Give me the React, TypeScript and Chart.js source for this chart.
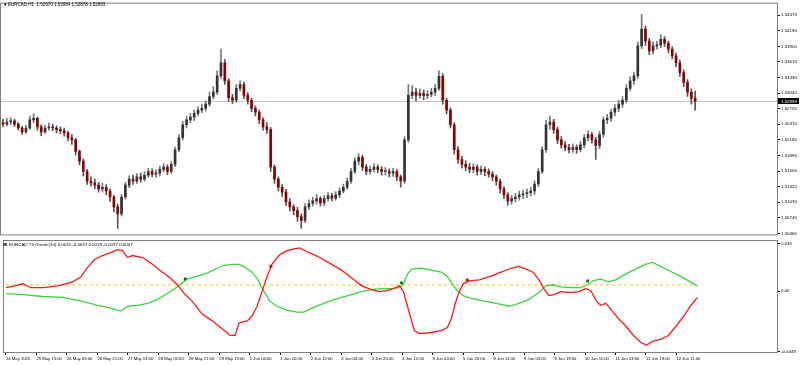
import React, { useEffect, useRef } from "react";
import { Chart, registerables } from "chart.js";

Chart.register(...registerables);

// ---------- data ----------
const symbolTitle = "EURCAD,H1";
const headerPrices = ["1.52970", "1.53084", "1.52878", "1.52893"];
const indicatorTitle = "EURCAD T3 iTrend (34)";
const indicatorBuffers = ["0.0015", "-0.0037", "0.0019", "-0.0037", "0.0047"];
const currentPrice = 1.52893;
const hoursPerBar = 2;
const firstOpen = 1.525;

const closes = [
  1.5247, 1.5251, 1.5253, 1.5247, 1.524, 1.5233, 1.524, 1.5255, 1.5258, 1.5242,
  1.5233, 1.524, 1.5242, 1.524, 1.5237, 1.5235, 1.5231, 1.5222, 1.5218, 1.5197,
  1.5179, 1.516, 1.5142, 1.5139, 1.5135, 1.5128, 1.5131, 1.5124, 1.5113, 1.5095,
  1.5082, 1.5113, 1.5135, 1.5146, 1.5142, 1.515, 1.5146, 1.5153, 1.516, 1.5155,
  1.5157, 1.5164, 1.5168, 1.516, 1.5173, 1.52, 1.5222, 1.5246, 1.5255, 1.526,
  1.5267, 1.5273, 1.5276, 1.5284, 1.5298, 1.5306, 1.5336, 1.536, 1.5327, 1.5296,
  1.5291, 1.5313, 1.532, 1.53, 1.5291, 1.5276, 1.5269, 1.5255, 1.5242, 1.5237,
  1.5168, 1.5146, 1.5131, 1.5122, 1.5104, 1.5095, 1.5088, 1.5077, 1.507, 1.5095,
  1.5101, 1.5106, 1.511, 1.5102, 1.511, 1.5115, 1.5111, 1.5117, 1.5124, 1.5131,
  1.5142, 1.516, 1.5179, 1.5186, 1.5168, 1.516, 1.5164, 1.5168, 1.5164, 1.516,
  1.516, 1.5157, 1.516, 1.515, 1.5142, 1.5218, 1.53, 1.5306, 1.53, 1.5304,
  1.53, 1.5302, 1.5306, 1.5313, 1.5335, 1.5291, 1.5273, 1.5246, 1.52, 1.5182,
  1.5173, 1.5168, 1.5164, 1.5168, 1.516, 1.5164, 1.516, 1.5155, 1.515, 1.5142,
  1.5128, 1.5117, 1.5106, 1.511, 1.5113, 1.5117, 1.5119, 1.5121, 1.5124, 1.5137,
  1.516, 1.52, 1.5246, 1.5251, 1.5237, 1.5218, 1.5209, 1.5204, 1.52, 1.5204,
  1.52, 1.5209, 1.5222, 1.5228, 1.5218, 1.5208, 1.5228, 1.5255, 1.5258, 1.5269,
  1.5276, 1.5284, 1.5291, 1.5313, 1.5327, 1.5336, 1.5391, 1.5422, 1.54, 1.5382,
  1.5391, 1.5393, 1.5403, 1.5396, 1.5385, 1.5373, 1.536, 1.5342, 1.5324, 1.5306,
  1.5295, 1.52893,
];

const highs = [
  1.5256, 1.5258, 1.5259, 1.5256, 1.525, 1.5243, 1.5245, 1.5262, 1.5266, 1.526,
  1.5246, 1.5245, 1.5249, 1.5247, 1.5244, 1.5242, 1.524, 1.5234, 1.5228, 1.5221,
  1.52, 1.5183, 1.5164, 1.515, 1.5146, 1.514, 1.5138, 1.5136, 1.5128, 1.5116,
  1.51, 1.5118, 1.514, 1.5152, 1.5153, 1.5156, 1.5157, 1.516, 1.5166, 1.5165,
  1.5163, 1.517, 1.5174, 1.5172, 1.5178, 1.5205, 1.5228, 1.5252, 1.5262, 1.5267,
  1.5273, 1.5279, 1.5284, 1.529, 1.5306, 1.5316, 1.5345, 1.5385, 1.5366, 1.5331,
  1.5302, 1.532, 1.5327, 1.5324, 1.5305, 1.5295, 1.5281, 1.5273, 1.5259, 1.525,
  1.5241, 1.5172, 1.515, 1.5136, 1.5127, 1.511, 1.5099, 1.5094, 1.5082, 1.5101,
  1.5108, 1.5113, 1.5118, 1.5114, 1.5116, 1.5121, 1.512, 1.5123, 1.513, 1.5137,
  1.5148, 1.5166, 1.5185, 1.5193, 1.519, 1.5173, 1.517, 1.5174, 1.5172, 1.5169,
  1.5167, 1.5165, 1.5166, 1.5164, 1.5154, 1.5224, 1.532, 1.5318, 1.5313, 1.5312,
  1.531, 1.5309, 1.5313, 1.532, 1.5345, 1.534, 1.5295, 1.5277, 1.525, 1.5206,
  1.5188, 1.518, 1.5175, 1.5174, 1.5172, 1.517, 1.5168, 1.5165, 1.516, 1.5154,
  1.5146, 1.5132, 1.5121, 1.5116, 1.512, 1.5124, 1.5126, 1.5128, 1.5131, 1.5143,
  1.5166, 1.5206, 1.5254, 1.5262, 1.5256, 1.5241, 1.5224, 1.5215, 1.521, 1.5211,
  1.5209, 1.5215, 1.5228, 1.5235, 1.5232, 1.5223, 1.5234, 1.526, 1.5265, 1.5275,
  1.5283, 1.5291, 1.5298, 1.532, 1.5334, 1.5343, 1.5398, 1.5449, 1.5428, 1.5405,
  1.5398, 1.54, 1.5412, 1.5408, 1.54, 1.539, 1.5378, 1.5365, 1.5347, 1.5329,
  1.5312, 1.5308,
];

const lows = [
  1.5242, 1.5244, 1.5246, 1.5243, 1.5236, 1.5228, 1.523, 1.5237, 1.525, 1.5236,
  1.5226, 1.523, 1.5236, 1.5235, 1.5231, 1.5229, 1.5225, 1.5216, 1.521, 1.519,
  1.5172, 1.5152, 1.5136, 1.5133, 1.5128, 1.5122, 1.5122, 1.5117, 1.5105, 1.5086,
  1.5055, 1.5078, 1.5109, 1.513, 1.5136, 1.5138, 1.514, 1.5142, 1.5149, 1.515,
  1.5149, 1.5152, 1.5159, 1.5154, 1.5156, 1.5169, 1.5196, 1.5218, 1.524, 1.525,
  1.5254, 1.5262, 1.5268, 1.5271, 1.528, 1.5293, 1.5302, 1.5331, 1.532, 1.5289,
  1.5285, 1.5287, 1.5308, 1.5294, 1.5284, 1.527, 1.5262, 1.5248, 1.5236, 1.523,
  1.516, 1.5138, 1.5124, 1.5114, 1.5097, 1.5087, 1.508, 1.5068, 1.5055, 1.5066,
  1.509, 1.5096, 1.51, 1.5096, 1.5097, 1.5105, 1.5106, 1.5107, 1.5112, 1.512,
  1.5127, 1.5138, 1.5156, 1.5172, 1.5162, 1.5154, 1.5155, 1.5159, 1.5158, 1.5153,
  1.5153, 1.515, 1.5151, 1.5143, 1.5131, 1.5138, 1.5214, 1.5294, 1.529, 1.5295,
  1.5292, 1.5294, 1.5297, 1.53, 1.5309, 1.5284, 1.5266, 1.524, 1.5192, 1.5175,
  1.5166, 1.5161, 1.5158, 1.5158, 1.5153, 1.5154, 1.5152, 1.5149, 1.5143, 1.5135,
  1.512, 1.511, 1.5098, 1.51, 1.5104, 1.5107, 1.511, 1.5112, 1.5115, 1.5118,
  1.5132, 1.5156, 1.5195, 1.5238, 1.523, 1.5211, 1.5203, 1.5198, 1.5194, 1.5195,
  1.5193, 1.5196, 1.5204, 1.5216, 1.5212, 1.5182, 1.5202, 1.5223, 1.5248, 1.5252,
  1.5262, 1.527, 1.5278, 1.5286, 1.5308, 1.532, 1.5331, 1.5386, 1.5392, 1.5375,
  1.5376, 1.5385, 1.5388, 1.539, 1.5378, 1.5367, 1.5353, 1.5335, 1.5316, 1.5298,
  1.5284, 1.5273,
];

const priceTicks = [
  1.54475, 1.5419, 1.539, 1.53615, 1.5333, 1.5304, 1.52755, 1.5247, 1.5218,
  1.51895, 1.51605, 1.5132, 1.51035, 1.50745, 1.5046,
];

const timeLabels = [
  "24 May 2020", "25 May 13:00", "26 May 05:00", "26 May 21:00", "27 May 13:00",
  "28 May 05:00", "28 May 21:00", "29 May 13:00", "1 Jun 04:00", "1 Jun 20:00",
  "2 Jun 12:00", "3 Jun 04:00", "3 Jun 20:00", "4 Jun 12:00", "5 Jun 04:00",
  "5 Jun 20:00", "8 Jun 11:00", "9 Jun 03:00", "9 Jun 19:00", "10 Jun 11:00",
  "11 Jun 03:00", "11 Jun 19:00", "12 Jun 11:00",
];
const labelEveryHours = 16;

const redHours = [
  0, 4.7, 8.9, 13.1, 19.4, 27.2, 35.0, 39.2, 42.9, 46.5, 50.7, 54.9, 58.6, 61.2,
  63.8, 66.4, 71.7, 76.9, 82.1, 86.3, 90.0, 93.6, 97.8, 103.0, 108.3, 113.5,
  117.7, 120.3, 122.4, 126.6, 129.2, 131.8, 134.4, 137.0, 139.6, 143.8, 147.5,
  151.2, 154.3, 157.9, 161.6, 165.8, 171.0, 176.2, 181.5, 186.7, 191.9, 196.1,
  199.8, 203.5, 206.6, 208.7, 210.8, 212.9, 214.4, 217.1, 223.3, 228.6, 231.7,
  233.8, 235.9, 238.0, 240.1, 243.2, 248.4, 254.7, 259.9, 265.2, 269.4, 273.0,
  276.7, 279.8, 282.4, 285.0, 287.7, 291.3, 296.5, 300.7, 304.4, 307.0, 310.1,
  312.2, 314.9, 317.5, 321.7, 325.3, 329.0, 333.2, 336.3, 339.4, 343.6, 347.8,
  352.0, 356.2, 359.3, 363.0,
];
const redValues = [
  0.0026, 0.004, 0.0055, 0.0026, 0.0026, 0.004, 0.0069, 0.0105, 0.0177, 0.0235,
  0.0264, 0.0285, 0.0307, 0.03, 0.0249, 0.0264, 0.0249, 0.0199, 0.0141, 0.0098,
  0.0048, -0.0017, -0.0075, -0.0169, -0.0219, -0.0277, -0.0327, -0.0327, -0.0233,
  -0.0219, -0.0183, -0.0111, -0.0003, 0.0105, 0.0199, 0.0271, 0.03, 0.0314,
  0.0321, 0.0292, 0.0271, 0.0242, 0.0199, 0.0156, 0.0098, 0.004, 0.0012, -0.0003,
  0.0004, 0.0019, 0.004, -0.0003, -0.0111, -0.0219, -0.0291, -0.0313, -0.0305,
  -0.0291, -0.0269, -0.0205, -0.0089, -0.0003, 0.0055, 0.0076, 0.0084, 0.0112,
  0.0141, 0.017, 0.0184, 0.0163, 0.0141, 0.0084, 0.0019, -0.0032, -0.0025,
  -0.0003, -0.001, -0.0003, 0.0019, 0.0004, -0.0075, -0.0104, -0.0089, -0.0132,
  -0.0205, -0.0255, -0.032, -0.0377, -0.0399, -0.037, -0.0356, -0.0327, -0.0255,
  -0.0176, -0.0111, -0.0046,
];

const greenHours = [
  0, 8.9, 19.4, 29.8, 40.3, 48.1, 54.9, 60.1, 63.8, 69.0, 74.3, 79.5, 84.7, 90.0,
  95.2, 100.4, 105.6, 110.9, 114.5, 118.7, 122.4, 125.5, 129.2, 132.3, 135.5,
  138.6, 142.3, 147.5, 152.7, 156.4, 160.6, 165.8, 171.0, 176.2, 181.5, 186.7,
  191.9, 197.2, 202.4, 206.6, 208.7, 210.8, 212.9, 218.1, 223.3, 228.6, 231.7,
  234.3, 236.9, 240.1, 244.2, 249.5, 257.3, 264.1, 269.4, 274.6, 279.8, 283.5,
  287.1, 291.3, 296.5, 301.8, 305.4, 308.1, 312.2, 316.4, 320.1, 325.3, 330.5,
  335.8, 339.4, 343.6, 348.8, 354.0, 359.3, 363.0,
];
const greenValues = [
  -0.0017, -0.0025, -0.0039, -0.0046, -0.0075, -0.0104, -0.0125, -0.0147,
  -0.0111, -0.0104, -0.0089, -0.006, -0.0017, 0.0033, 0.0091, 0.0112, 0.0134,
  0.017, 0.0192, 0.0199, 0.0199, 0.0177, 0.0141, 0.0084, -0.0003, -0.0075,
  -0.0111, -0.014, -0.0154, -0.0154, -0.0125, -0.0096, -0.0068, -0.0046, -0.0025,
  -0.0003, 0.0012, 0.0019, 0.0019, 0.0026, 0.0055, 0.0127, 0.0163, 0.017, 0.0156,
  0.0141, 0.0112, 0.0055, 0.0004, -0.0032, -0.0053, -0.0068, -0.0089, -0.0111,
  -0.0089, -0.006, -0.001, 0.004, 0.0048, 0.0033, 0.0026, 0.0026, 0.0048, 0.0076,
  0.0091, 0.0069, 0.0084, 0.0127, 0.0163, 0.0199, 0.0213, 0.0184, 0.0148, 0.0112,
  0.0069, 0.004,
];

const signalLevel = 0.0047;
const greenDotHours = [94.1, 207.6, 305.4];
const greenDotValues = [0.0091, 0.0062, 0.0076];
const redDotHours = [139.1, 242.2];
const redDotValues = [0.0184, 0.0084];

const indicatorTicks = [0.035, 0, -0.0449];
const indicatorTickLabels = ["0.035", "0.00", "-0.0449"];

// ---------- style ----------
const FONT = '"Liberation Sans", Arial, sans-serif';
const X_MIN = -1.05;
const X_MAX = 404.8;
const AXIS_W = 23;

const mainDecor = {
  id: "mainDecor",
  beforeDatasetsDraw(chart: any) {
    const { ctx, chartArea: a, scales } = chart;
    const py = Math.round(scales.y.getPixelForValue(currentPrice)) + 0.5;
    ctx.save();
    ctx.strokeStyle = "#c4c4c4";
    ctx.lineWidth = 1;
    ctx.beginPath();
    ctx.moveTo(a.left, py);
    ctx.lineTo(a.right, py);
    ctx.stroke();
    ctx.restore();
  },
  afterDraw(chart: any) {
    const { ctx, chartArea: a, scales } = chart;
    ctx.save();
    ctx.strokeStyle = "#808080";
    ctx.lineWidth = 1;
    ctx.strokeRect(a.left - 0.5, a.top - 0.5, a.right - a.left + 1, a.bottom - a.top + 1);
    ctx.fillStyle = "#000";
    ctx.textBaseline = "middle";
    ctx.textAlign = "left";
    ctx.font = `4.5px ${FONT}`;
    ctx.fillText("\u25BC", 3, 5);
    ctx.fillText(`${symbolTitle}  ${headerPrices.join(" ")}`, 8, 5);
    const py = Math.round(scales.y.getPixelForValue(currentPrice));
    ctx.fillStyle = "#000";
    ctx.fillRect(a.right + 1, py - 3, 21, 6);
    ctx.fillStyle = "#fff";
    ctx.font = `4.4px ${FONT}`;
    ctx.fillText(currentPrice.toFixed(5), a.right + 4, py + 0.3);
    ctx.restore();
  },
};

const indDecor = {
  id: "indDecor",
  afterDraw(chart: any) {
    const { ctx, chartArea: a } = chart;
    ctx.save();
    ctx.strokeStyle = "#808080";
    ctx.lineWidth = 1;
    ctx.strokeRect(a.left - 0.5, a.top - 0.5, a.right - a.left + 1, a.bottom - a.top + 1);
    ctx.fillStyle = "#606060";
    ctx.fillRect(3, a.top + 2, 4, 3);
    ctx.fillStyle = "#000";
    ctx.textBaseline = "middle";
    ctx.textAlign = "left";
    ctx.font = `4.4px ${FONT}`;
    ctx.fillText(`${indicatorTitle} ${indicatorBuffers.join(" ")}`, 9, a.top + 3.6);
    ctx.restore();
  },
};

function MainChart() {
  const ref = useRef<HTMLCanvasElement>(null);
  useEffect(() => {
    const opens = closes.map((_, i) => (i === 0 ? firstOpen : closes[i - 1]));
    const bodies = closes.map((c, i) => ({ x: i * hoursPerBar, y: [opens[i], c] }));
    const wicks = closes.map((_, i) => ({ x: i * hoursPerBar, y: [lows[i], highs[i]] }));
    const bodyColors = closes.map((c, i) => (c >= opens[i] ? "#333333" : "#8b0000"));
    const wickColors = closes.map((c, i) => (c >= opens[i] ? "#777777" : "#555555"));
    const chart = new Chart(ref.current as HTMLCanvasElement, {
      type: "bar",
      data: {
        datasets: [
          {
            data: bodies as any,
            backgroundColor: bodyColors,
            barThickness: 2,
            grouped: false,
            minBarLength: 1,
            order: 0,
          } as any,
          {
            data: wicks as any,
            backgroundColor: wickColors,
            barThickness: 1,
            grouped: false,
            order: 1,
          } as any,
        ],
      },
      options: {
        animation: false,
        responsive: false,
        events: [],
        layout: { padding: { top: 2, bottom: 2, left: 1, right: 0 } },
        plugins: { legend: { display: false }, tooltip: { enabled: false } },
        scales: {
          x: { type: "linear", min: X_MIN, max: X_MAX, display: false, offset: false },
          y: {
            position: "right",
            min: 1.50443,
            max: 1.54688,
            afterFit: (s: any) => {
              s.width = AXIS_W;
            },
            afterBuildTicks: (s: any) => {
              s.ticks = priceTicks.map((v) => ({ value: v }));
            },
            ticks: {
              autoSkip: false,
              padding: 1,
              color: "#000",
              font: { size: 4.4, family: FONT },
              callback: (v: any) => Number(v).toFixed(5),
            },
            grid: { drawOnChartArea: false, tickLength: 3, color: "#000" },
            border: { color: "#808080" },
          },
        },
      } as any,
      plugins: [mainDecor],
    });
    return () => chart.destroy();
  }, []);
  return (
    <canvas
      ref={ref}
      width={800}
      height={238}
      style={{ position: "absolute", left: 0, top: 0, width: 800, height: 238 }}
    />
  );
}

function IndicatorChart() {
  const ref = useRef<HTMLCanvasElement>(null);
  useEffect(() => {
    const lastHour = (closes.length - 1) * hoursPerBar;
    const chart = new Chart(ref.current as HTMLCanvasElement, {
      type: "line",
      data: {
        datasets: [
          {
            type: "scatter",
            data: greenDotHours.map((h, i) => ({ x: h, y: greenDotValues[i] })),
            pointRadius: 1.6,
            pointBackgroundColor: "#007a00",
            pointBorderWidth: 0,
            order: 0,
          },
          {
            type: "scatter",
            data: redDotHours.map((h, i) => ({ x: h, y: redDotValues[i] })),
            pointRadius: 1.6,
            pointBackgroundColor: "#e00000",
            pointBorderWidth: 0,
            order: 0,
          },
          {
            data: redHours.map((h, i) => ({ x: h, y: redValues[i] })),
            borderColor: "#ff1a1a",
            borderWidth: 1.3,
            pointRadius: 0,
            tension: 0,
            order: 1,
          },
          {
            data: greenHours.map((h, i) => ({ x: h, y: greenValues[i] })),
            borderColor: "#3fd43f",
            borderWidth: 1.3,
            pointRadius: 0,
            tension: 0,
            order: 2,
          },
          {
            data: [
              { x: 0, y: signalLevel },
              { x: lastHour, y: signalLevel },
            ],
            borderColor: "#f2c21b",
            borderWidth: 1,
            borderDash: [3, 3],
            pointRadius: 0,
            order: 3,
          },
        ],
      } as any,
      options: {
        animation: false,
        responsive: false,
        events: [],
        layout: { padding: { top: 1, bottom: 0, left: 1, right: 0 } },
        plugins: { legend: { display: false }, tooltip: { enabled: false } },
        scales: {
          x: {
            type: "linear",
            min: X_MIN,
            max: X_MAX,
            offset: false,
            afterFit: (s: any) => {
              s.height = 13;
            },
            afterBuildTicks: (s: any) => {
              s.ticks = timeLabels.map((_, k) => ({ value: k * labelEveryHours }));
            },
            ticks: {
              autoSkip: false,
              maxRotation: 0,
              minRotation: 0,
              align: "start",
              padding: 1,
              color: "#000",
              font: { size: 4.2, family: FONT },
              callback: (_v: any, i: number) => timeLabels[i],
            },
            grid: { drawOnChartArea: false, tickLength: 3, color: "#000" },
            border: { color: "#808080" },
          },
          y: {
            position: "right",
            min: -0.04493,
            max: 0.03715,
            afterFit: (s: any) => {
              s.width = AXIS_W;
            },
            afterBuildTicks: (s: any) => {
              s.ticks = indicatorTicks.map((v) => ({ value: v }));
            },
            ticks: {
              autoSkip: false,
              padding: 1,
              color: "#000",
              font: { size: 4.4, family: FONT },
              callback: (_v: any, i: number) => indicatorTickLabels[i],
            },
            grid: { drawOnChartArea: false, tickLength: 3, color: "#000" },
            border: { color: "#808080" },
          },
        },
      } as any,
      plugins: [indDecor],
    });
    return () => chart.destroy();
  }, []);
  return (
    <canvas
      ref={ref}
      width={800}
      height={128}
      style={{ position: "absolute", left: 0, top: 237, width: 800, height: 128 }}
    />
  );
}

export default function App() {
  useEffect(() => {
    document.body.style.margin = "0";
    document.body.style.background = "#fff";
  }, []);
  return (
    <div
      style={{
        position: "absolute",
        left: 0,
        top: 0,
        width: 800,
        height: 365,
        background: "#fff",
        overflow: "hidden",
      }}
    >
      <MainChart />
      <IndicatorChart />
    </div>
  );
}
